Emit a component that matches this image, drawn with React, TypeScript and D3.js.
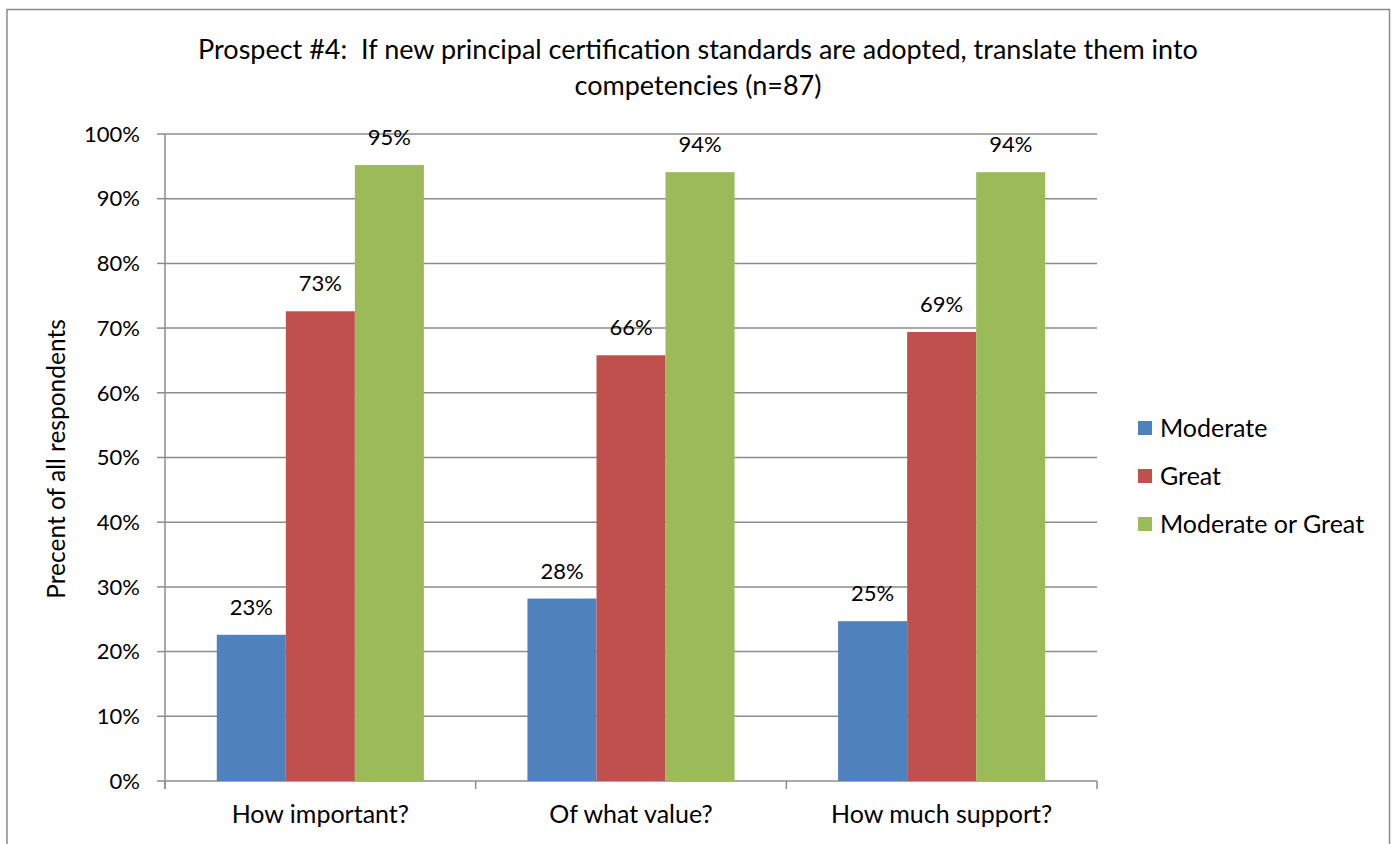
import React from "react";
import * as d3 from "d3";

const categories = ["How important?", "Of what value?", "How much support?"];
const seriesNames = ["Moderate", "Great", "Moderate or Great"];
const seriesColors = ["#4F81BD", "#C0504D", "#9BBB59"];
const moderate = [0.226, 0.282, 0.247];
const great = [0.726, 0.658, 0.694];
const moderateOrGreat = [0.952, 0.941, 0.941];
const yTicks = [0, 0.1, 0.2, 0.3, 0.4, 0.5, 0.6, 0.7, 0.8, 0.9, 1.0];
const titleLines = [
  "Prospect #4:\u00A0 If new principal certification standards are adopted, translate them into",
  "competencies (n=87)",
];
const yAxisTitle = "Precent of all respondents";

const W = 1391;
const H = 844;
const FONT = "Lato, 'Open Sans', sans-serif";

export default function App() {
  const series = [moderate, great, moderateOrGreat];
  const left = 165, right = 1097, top = 134, bottom = 781;
  const x0 = d3.scaleBand<string>().domain(categories).range([left, right]).paddingInner(0).paddingOuter(0);
  const y = d3.scaleLinear().domain([0, 1]).range([bottom, top]);
  const bw = x0.bandwidth();
  const barW = bw / (3 + 1.5);
  const fmt = d3.format(".0%");
  const gridColor = "#8C8C8C";

  return (
    <svg width={W} height={H} style={{ position: "absolute", left: 0, top: 0, background: "#fff" }} fontFamily={FONT}>
      <rect x={7} y={9.5} width={1382.5} height={840} fill="#fff" stroke="#8C8C8C" strokeWidth={1.5} />
      {titleLines.map((t, i) => (
        <text key={i} x={698} y={59 + i * 36} textAnchor="middle" fontSize={27} fill="#000">{t}</text>
      ))}
      {yTicks.map((t) => (
        <g key={t}>
          <line x1={left} x2={right} y1={y(t)} y2={y(t)} stroke={gridColor} strokeWidth={1.5} />
          <line x1={157} x2={left} y1={y(t)} y2={y(t)} stroke={gridColor} strokeWidth={1.5} />
          <text x={140} y={y(t)} dy="0.35em" textAnchor="end" fontSize={22} fill="#000">{fmt(t)}</text>
        </g>
      ))}
      <line x1={left} x2={left} y1={top} y2={bottom + 8} stroke={gridColor} strokeWidth={1.5} />
      {[0, 1, 2, 3].map((i) => (
        <line key={i} x1={left + i * bw} x2={left + i * bw} y1={bottom} y2={bottom + 8} stroke={gridColor} strokeWidth={1.5} />
      ))}
      {categories.map((c, ci) => {
        const gx = x0(c)!;
        const start = gx + (bw - 3 * barW) / 2;
        return (
          <g key={c}>
            {series.map((s, si) => {
              const bx = start + si * barW;
              return (
                <g key={si}>
                  <rect x={bx} y={y(s[ci])} width={barW} height={bottom - y(s[ci])} fill={seriesColors[si]} />
                  <text x={bx + barW / 2} y={y(s[ci]) - 20} textAnchor="middle" fontSize={22} fill="#000">{fmt(s[ci])}</text>
                </g>
              );
            })}
            <text x={gx + bw / 2} y={823} textAnchor="middle" fontSize={25} fill="#000">{c}</text>
          </g>
        );
      })}
      <text transform={`translate(65,${459}) rotate(-90)`} textAnchor="middle" fontSize={24.5} fill="#000">{yAxisTitle}</text>
      {seriesNames.map((n, i) => (
        <g key={n}>
          <rect x={1138} y={421 + i * 48} width={14} height={14} fill={seriesColors[i]} />
          <text x={1160} y={428 + i * 48} dy="0.35em" fontSize={25} fill="#000">{n}</text>
        </g>
      ))}
    </svg>
  );
}
